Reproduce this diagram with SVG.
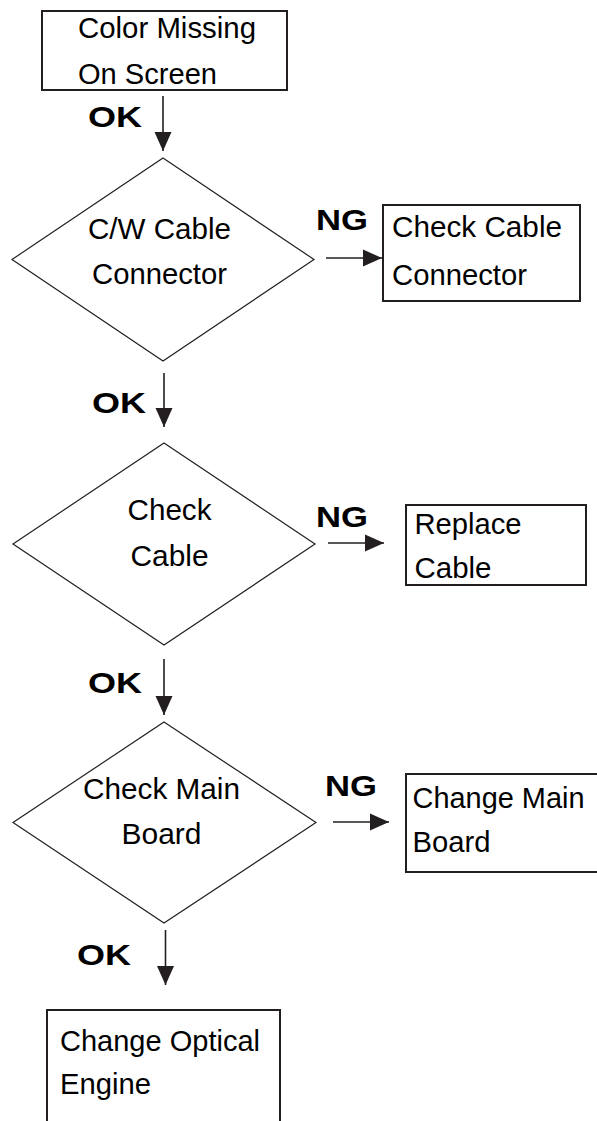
<svg xmlns="http://www.w3.org/2000/svg" width="597" height="1121" viewBox="0 0 597 1121">
  <style>
    .box { fill: #ffffff; stroke: #231f20; stroke-width: 2; }
    .dia { fill: #ffffff; stroke: #231f20; stroke-width: 1.2; }
    .lbl { font-family: "Liberation Sans", Arial, sans-serif; font-size: 29px; fill: #000000; }
    .tag { font-family: "Liberation Sans", Arial, sans-serif; font-size: 30px; font-weight: bold; fill: #000000; }
    .flow { stroke: #231f20; stroke-width: 1.6; fill: none; marker-end: url(#head); }
  </style>
  <defs>
    <marker id="head" markerUnits="userSpaceOnUse" markerWidth="19" markerHeight="18" refX="19" refY="9" orient="auto">
      <path d="M0,0.5 L19,9 L0,17.5 Z" fill="#231f20"/>
    </marker>
  </defs>

  <rect width="597" height="1121" fill="#ffffff"/>

  <!-- connectors -->
  <g id="connectors">
    <line class="flow" x1="163" y1="96" x2="163" y2="151"/>
    <line class="flow" x1="326" y1="258" x2="382" y2="258"/>
    <line class="flow" x1="164" y1="373" x2="164" y2="427"/>
    <line class="flow" x1="328" y1="543" x2="384" y2="543"/>
    <line class="flow" x1="164" y1="659" x2="164" y2="715"/>
    <line class="flow" x1="333" y1="822" x2="389" y2="822"/>
    <line class="flow" x1="165.5" y1="930" x2="165.5" y2="985"/>
    <text class="tag" x="88" y="127" textLength="54" lengthAdjust="spacingAndGlyphs">OK</text>
    <text class="tag" x="316" y="230" textLength="52" lengthAdjust="spacingAndGlyphs">NG</text>
    <text class="tag" x="92" y="413" textLength="54" lengthAdjust="spacingAndGlyphs">OK</text>
    <text class="tag" x="316" y="527" textLength="52" lengthAdjust="spacingAndGlyphs">NG</text>
    <text class="tag" x="88" y="693" textLength="54" lengthAdjust="spacingAndGlyphs">OK</text>
    <text class="tag" x="325" y="796" textLength="52" lengthAdjust="spacingAndGlyphs">NG</text>
    <text class="tag" x="77" y="965" textLength="54" lengthAdjust="spacingAndGlyphs">OK</text>
  </g>

  <!-- start -->
  <g id="color-missing">
    <rect class="box" x="42" y="11" width="245" height="79"/>
    <text class="lbl" x="78" y="38" textLength="178" lengthAdjust="spacingAndGlyphs">Color Missing</text>
    <text class="lbl" x="78" y="84" textLength="139" lengthAdjust="spacingAndGlyphs">On Screen</text>
  </g>

  <!-- decision 1 -->
  <g id="cw-cable-connector">
    <polygon class="dia" points="163,158 314,259.5 163,361 12,259.5"/>
    <text class="lbl" x="88" y="239" textLength="143" lengthAdjust="spacingAndGlyphs">C/W Cable</text>
    <text class="lbl" x="92" y="284" textLength="135" lengthAdjust="spacingAndGlyphs">Connector</text>
  </g>

  <g id="check-cable-connector">
    <rect class="box" x="383" y="205" width="197" height="96"/>
    <text class="lbl" x="392" y="237" textLength="170" lengthAdjust="spacingAndGlyphs">Check Cable</text>
    <text class="lbl" x="392" y="285" textLength="135" lengthAdjust="spacingAndGlyphs">Connector</text>
  </g>

  <!-- decision 2 -->
  <g id="check-cable">
    <polygon class="dia" points="164,443 315,544 164,645 13,544"/>
    <text class="lbl" x="127.5" y="520" textLength="84" lengthAdjust="spacingAndGlyphs">Check</text>
    <text class="lbl" x="130.5" y="566" textLength="78" lengthAdjust="spacingAndGlyphs">Cable</text>
  </g>

  <g id="replace-cable">
    <rect class="box" x="406" y="505" width="180" height="80"/>
    <text class="lbl" x="414.5" y="534" textLength="107" lengthAdjust="spacingAndGlyphs">Replace</text>
    <text class="lbl" x="414.5" y="578" textLength="77" lengthAdjust="spacingAndGlyphs">Cable</text>
  </g>

  <!-- decision 3 -->
  <g id="check-main-board">
    <polygon class="dia" points="164,722 316,822.5 164,923 13,822.5"/>
    <text class="lbl" x="83" y="799" textLength="157" lengthAdjust="spacingAndGlyphs">Check Main</text>
    <text class="lbl" x="121.5" y="844" textLength="80" lengthAdjust="spacingAndGlyphs">Board</text>
  </g>

  <g id="change-main-board">
    <rect class="box" x="406" y="774" width="196" height="98"/>
    <text class="lbl" x="412.5" y="807.5" textLength="172" lengthAdjust="spacingAndGlyphs">Change Main</text>
    <text class="lbl" x="412.5" y="851.5" textLength="78" lengthAdjust="spacingAndGlyphs">Board</text>
  </g>

  <!-- final action -->
  <g id="change-optical-engine">
    <rect class="box" x="47" y="1010" width="233" height="130"/>
    <text class="lbl" x="60" y="1050.5" textLength="200" lengthAdjust="spacingAndGlyphs">Change Optical</text>
    <text class="lbl" x="60" y="1094" textLength="91" lengthAdjust="spacingAndGlyphs">Engine</text>
  </g>
</svg>
